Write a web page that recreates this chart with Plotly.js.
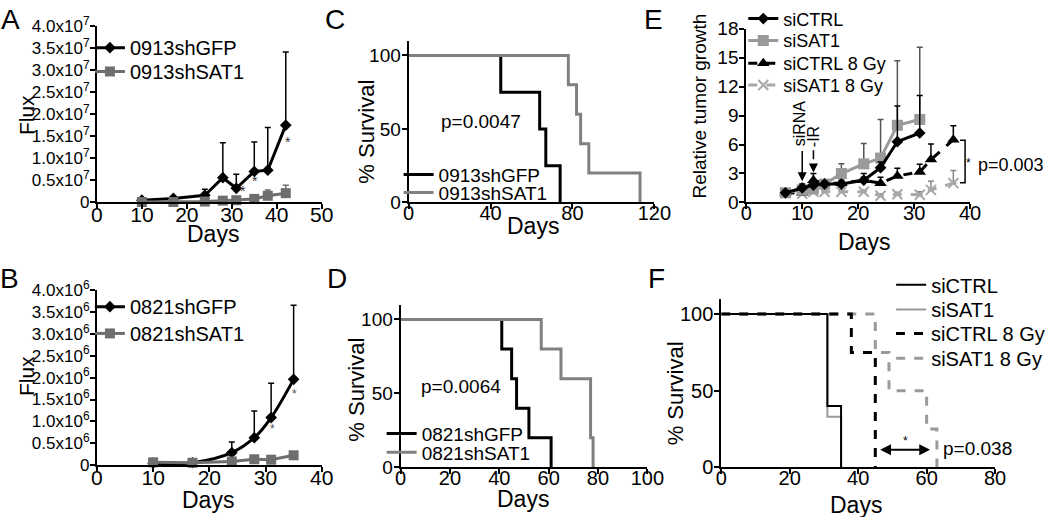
<!DOCTYPE html>
<html>
<head>
<meta charset="utf-8">
<script src="https://cdn.plot.ly/plotly-3.0.1.min.js"></script>
<style>
  body { margin: 0; background: #fff; }
  #fig { width: 1050px; height: 517px; }
</style>
</head>
<body>
<div id="fig"></div>
<script>
// Panel A - 0913 flux
const aDays = [10, 17, 24, 28, 31, 35, 38, 42];
const aGFP = [5e5, 9e5, 1.6e6, 5.6e6, 3.2e6, 7.0e6, 7.3e6, 1.75e7];
const aGFPErr = [3e5, 4e5, 1.4e6, 7.9e6, 3.2e6, 6.7e6, 9.7e6, 1.66e7];
const aSAT = [1e5, 1e5, 2e5, 4e5, 5e5, 8e5, 1.5e6, 2.1e6];
const aSATErr = [1e5, 1e5, 1e5, 2e5, 3e5, 4e5, 1.3e6, 1.8e6];
const aTickVals = [0, 5e6, 1e7, 1.5e7, 2e7, 2.5e7, 3e7, 3.5e7, 4e7];
const aTickText = ['0', '0.5x10<sup>7</sup>', '1.0x10<sup>7</sup>', '1.5x10<sup>7</sup>', '2.0x10<sup>7</sup>',
  '2.5x10<sup>7</sup>', '3.0x10<sup>7</sup>', '3.5x10<sup>7</sup>', '4.0x10<sup>7</sup>'];

// Panel B - 0821 flux
const bDays = [10, 17, 24, 28, 31, 35];
const bGFP = [5e4, 6e4, 2.9e5, 6.3e5, 1.09e6, 1.96e6];
const bGFPErr = [2e4, 2e4, 2.4e5, 6.1e5, 7.8e5, 1.69e6];
const bSAT = [7e4, 6e4, 9e4, 1.4e5, 1.3e5, 2.3e5];
const bSATErr = [2e4, 2e4, 3e4, 4e4, 7e4, 7e4];
const bTickVals = [0, 5e5, 1e6, 1.5e6, 2e6, 2.5e6, 3e6, 3.5e6, 4e6];
const bTickText = ['0', '0.5x10<sup>6</sup>', '1.0x10<sup>6</sup>', '1.5x10<sup>6</sup>', '2.0x10<sup>6</sup>',
  '2.5x10<sup>6</sup>', '3.0x10<sup>6</sup>', '3.5x10<sup>6</sup>', '4.0x10<sup>6</sup>'];

// Panel C - 0913 survival
const cGFPDays = [0, 45, 64, 67, 74];
const cGFPSurv = [100, 75, 50, 25, 0];
const cSATDays = [0, 78, 82, 84, 88, 113];
const cSATSurv = [100, 80, 60, 40, 20, 0];

// Panel D - 0821 survival
const dGFPDays = [0, 41, 45, 47, 52, 61];
const dGFPSurv = [100, 80, 60, 40, 20, 0];
const dSATDays = [0, 57, 65, 77, 78];
const dSATSurv = [100, 80, 60, 20, 0];

// Panel E - relative tumor growth
const eDays = [7, 10, 12, 14, 17, 21, 24, 27, 31];
const eCTRL = [1.0, 1.5, 1.8, 1.9, 1.9, 2.3, 3.6, 6.3, 7.2];
const eCTRLErr = [0.1, 0.4, 0.3, 0.3, 0.3, 0.7, 0.6, 3.7, 3.9];
const eSAT = [1.0, 1.3, 1.4, 1.9, 3.0, 4.0, 4.6, 8.0, 8.6];
const eSATErr = [0.1, 0.3, 0.3, 0.3, 1.0, 2.1, 4.0, 6.7, 7.5];
const e8Days = [7, 10, 12, 14, 17, 21, 24, 27, 31, 33, 37];
const eCTRL8 = [1.0, 1.0, 2.3, 2.0, 2.0, 2.3, 2.0, 2.75, 3.15, 4.45, 6.5];
const eCTRL8Err = [0.1, 0.2, 0.7, 0.3, 0.3, 0.3, 0.6, 0.8, 0.8, 1.6, 1.45];
const eSAT8 = [1.0, 0.9, 1.1, 1.1, 1.1, 1.1, 0.7, 0.85, 0.8, 1.3, 2.0];
const eSAT8Err = [0.1, 0.1, 0.2, 0.2, 0.2, 0.2, 0.2, 0.2, 0.3, 0.9, 1.3];

// Panel F - survival with IR
const fCTRLDays = [0, 31, 35];
const fCTRLSurv = [100, 40, 0];
const fSATDays = [0, 31, 35];
const fSATSurv = [100, 33, 0];
const fCTRL8Days = [0, 38, 45];
const fCTRL8Surv = [100, 75, 0];
const fSAT8Days = [0, 45, 49, 60, 63];
const fSAT8Surv = [100, 75, 50, 25, 0];

const W = 1050, H = 517;
const FONT = '"Liberation Sans", Arial, sans-serif';
const GRAY = '#6e6e6e';
const LGRAY = '#9a9a9a';

function upErr(err, color) {
  return {type: 'data', symmetric: false, array: err, arrayminus: err.map(() => 0),
    color: color, thickness: 1.5, width: 3};
}

function axis(domain, anchor, extra) {
  return Object.assign({
    domain: domain, anchor: anchor, showline: true, linecolor: '#000', linewidth: 2,
    ticks: 'outside', ticklen: 5, tickwidth: 2, tickcolor: '#000', showgrid: false,
    zeroline: false, tickfont: {size: 19, color: '#000'}, fixedrange: true,
    ticklabelstandoff: -3,
  }, extra);
}

// x axes: pull the tick labels up close to the axis line like the reference
function xaxis(domain, anchor, extra) {
  return axis(domain, anchor, Object.assign({ticklabelstandoff: -13, tickfont: {size: 20, color: '#000'}}, extra));
}

// one legend box per entry so each row sits where the reference has it
// textX / midY are pixel positions of the entry text
function legendAt(textX, midY, size) {
  return {x: (textX - 41) / W, y: 1 - midY / H, xanchor: 'left', yanchor: 'middle',
    bgcolor: 'rgba(0,0,0,0)', font: {size: size, color: '#000'}, itemwidth: 30};
}

// paper-positioned text, pixel coordinates from the top-left
function label(text, px, py, size, extra) {
  return Object.assign({text: text, xref: 'paper', yref: 'paper', x: px / W, y: 1 - py / H,
    xanchor: 'center', yanchor: 'middle', showarrow: false, font: {size: size, color: '#000'}}, extra);
}

const traces = [
  // A
  {x: aDays, y: aGFP, name: '0913shGFP', xaxis: 'x', yaxis: 'y', legend: 'legend', mode: 'lines+markers',
    line: {color: '#000', width: 3}, marker: {symbol: 'diamond', size: 9, color: '#000'},
    error_y: upErr(aGFPErr, '#000'), cliponaxis: false},
  {x: aDays, y: aSAT, name: '0913shSAT1', xaxis: 'x', yaxis: 'y', legend: 'legend2', mode: 'lines+markers',
    line: {color: GRAY, width: 3}, marker: {symbol: 'square', size: 10, color: GRAY},
    error_y: upErr(aSATErr, GRAY), cliponaxis: false},
  // B
  {x: bDays, y: bGFP, name: '0821shGFP', xaxis: 'x2', yaxis: 'y2', legend: 'legend3', mode: 'lines+markers',
    line: {color: '#000', width: 3, shape: 'spline'}, marker: {symbol: 'diamond', size: 9, color: '#000'},
    error_y: upErr(bGFPErr, '#000'), cliponaxis: false},
  {x: bDays, y: bSAT, name: '0821shSAT1', xaxis: 'x2', yaxis: 'y2', legend: 'legend4', mode: 'lines+markers',
    line: {color: GRAY, width: 3}, marker: {symbol: 'square', size: 10, color: GRAY},
    error_y: upErr(bSATErr, GRAY), cliponaxis: false},
  // C
  {x: cGFPDays, y: cGFPSurv, name: '0913shGFP', xaxis: 'x3', yaxis: 'y3', legend: 'legend5', mode: 'lines',
    line: {color: '#000', width: 3, shape: 'hv'}, cliponaxis: false},
  {x: cSATDays, y: cSATSurv, name: '0913shSAT1', xaxis: 'x3', yaxis: 'y3', legend: 'legend6', mode: 'lines',
    line: {color: '#808080', width: 3, shape: 'hv'}, cliponaxis: false},
  // D
  {x: dGFPDays, y: dGFPSurv, name: '0821shGFP', xaxis: 'x4', yaxis: 'y4', legend: 'legend7', mode: 'lines',
    line: {color: '#000', width: 3, shape: 'hv'}, cliponaxis: false},
  {x: dSATDays, y: dSATSurv, name: '0821shSAT1', xaxis: 'x4', yaxis: 'y4', legend: 'legend8', mode: 'lines',
    line: {color: '#808080', width: 3, shape: 'hv'}, cliponaxis: false},
  // E
  {x: e8Days, y: eSAT8, name: 'siSAT1 8 Gy', xaxis: 'x5', yaxis: 'y5', legend: 'legend12',
    mode: 'lines+markers', line: {color: '#a8a8a8', width: 3, dash: 'dash'},
    marker: {symbol: 'x-thin', size: 10, line: {color: '#a8a8a8', width: 2}},
    error_y: upErr(eSAT8Err, '#888'), cliponaxis: false},
  {x: e8Days, y: eCTRL8, name: 'siCTRL 8 Gy', xaxis: 'x5', yaxis: 'y5', legend: 'legend11',
    mode: 'lines+markers', line: {color: '#000', width: 3, dash: 'dash'},
    marker: {symbol: 'triangle-up', size: 11, color: '#000'},
    error_y: upErr(eCTRL8Err, '#000'), cliponaxis: false},
  {x: eDays, y: eSAT, name: 'siSAT1', xaxis: 'x5', yaxis: 'y5', legend: 'legend10',
    mode: 'lines+markers', line: {color: LGRAY, width: 3},
    marker: {symbol: 'square', size: 11, color: LGRAY},
    error_y: upErr(eSATErr, '#555'), cliponaxis: false},
  {x: eDays, y: eCTRL, name: 'siCTRL', xaxis: 'x5', yaxis: 'y5', legend: 'legend9',
    mode: 'lines+markers', line: {color: '#000', width: 3},
    marker: {symbol: 'diamond', size: 9, color: '#000'},
    error_y: upErr(eCTRLErr, '#000'), cliponaxis: false},
  // F
  {x: fSATDays, y: fSATSurv, name: 'siSAT1', xaxis: 'x6', yaxis: 'y6', legend: 'legend14',
    mode: 'lines', line: {color: LGRAY, width: 2, shape: 'hv'}, cliponaxis: false},
  {x: fCTRLDays, y: fCTRLSurv, name: 'siCTRL', xaxis: 'x6', yaxis: 'y6', legend: 'legend13',
    mode: 'lines', line: {color: '#000', width: 2, shape: 'hv'}, cliponaxis: false},
  {x: fSAT8Days, y: fSAT8Surv, name: 'siSAT1 8 Gy', xaxis: 'x6', yaxis: 'y6', legend: 'legend16',
    mode: 'lines', line: {color: LGRAY, width: 3, shape: 'hv', dash: 'dash'}, cliponaxis: false},
  {x: fCTRL8Days, y: fCTRL8Surv, name: 'siCTRL 8 Gy', xaxis: 'x6', yaxis: 'y6', legend: 'legend15',
    mode: 'lines', line: {color: '#000', width: 3, shape: 'hv', dash: 'dash'}, cliponaxis: false},
];

const layout = {
  width: W,
  height: H,
  margin: {l: 0, r: 0, t: 0, b: 0},
  paper_bgcolor: '#fff',
  plot_bgcolor: 'rgba(0,0,0,0)',
  font: {family: FONT, color: '#000'},
  showlegend: true,

  xaxis: xaxis([0.0924, 0.3067], 'y', {range: [0, 50], dtick: 10, tickfont: {size: 21, color: '#000'}}),
  yaxis: axis([0.6132, 0.9574], 'x', {range: [0, 4e7], tickvals: aTickVals, ticktext: aTickText,
    tickfont: {size: 17, color: '#000'}}),
  xaxis2: xaxis([0.0924, 0.3067], 'y2', {range: [0, 40], dtick: 10, tickfont: {size: 21, color: '#000'}}),
  yaxis2: axis([0.1006, 0.4429], 'x2', {range: [0, 4e6], tickvals: bTickVals, ticktext: bTickText,
    tickfont: {size: 17, color: '#000'}}),
  xaxis3: xaxis([0.3895, 0.6238], 'y3', {range: [0, 120], tickvals: [0, 40, 80, 120]}),
  yaxis3: axis([0.6132, 0.9284], 'x3', {range: [0, 110], tickvals: [0, 50, 100]}),
  xaxis4: xaxis([0.3819, 0.6171], 'y4', {range: [0, 100], dtick: 20}),
  yaxis4: axis([0.0967, 0.4139], 'x4', {range: [0, 110], tickvals: [0, 50, 100]}),
  xaxis5: xaxis([0.7114, 0.9248], 'y5', {range: [0, 40], dtick: 10}),
  yaxis5: axis([0.6132, 0.9516], 'x5', {range: [0, 18], dtick: 3}),
  xaxis6: xaxis([0.6876, 0.9486], 'y6', {range: [0, 80], dtick: 20}),
  yaxis6: axis([0.0967, 0.4255], 'x6', {range: [0, 110], tickvals: [0, 50, 100], tickfont: {size: 20, color: '#000'}}),

  legend: legendAt(131, 44, 20),
  legend2: legendAt(131, 68, 20),
  legend3: legendAt(131, 305, 20),
  legend4: legendAt(131, 332, 20),
  legend5: legendAt(440, 172, 19),
  legend6: legendAt(440, 190, 19),
  legend7: legendAt(423, 433, 19),
  legend8: legendAt(423, 452, 19),
  legend9: legendAt(785, 15, 18),
  legend10: legendAt(785, 37, 18),
  legend11: legendAt(785, 60, 18),
  legend12: legendAt(785, 82, 18),
  legend13: legendAt(933, 283, 20),
  legend14: legendAt(933, 308, 20),
  legend15: legendAt(933, 332, 20),
  legend16: legendAt(933, 357, 20),

  shapes: [
    // bracket in E
    {type: 'path', xref: 'x5', yref: 'y5', path: 'M 38.2 6.45 L 39.1 6.45 L 39.1 2.05 L 38.2 2.05',
      line: {color: '#000', width: 1.5}},
    // dashed shaft of the IR arrow
    {type: 'line', xref: 'x5', yref: 'y5', x0: 12, x1: 12, y0: 5.4, y1: 3.6,
      line: {color: '#000', width: 1.5, dash: 'dash'}},
  ],

  annotations: [
    // panel letters
    label('A', 11, 16, 28), label('B', 10, 277, 28), label('C', 335, 16, 28),
    label('D', 337, 277, 28), label('E', 654, 16, 28), label('F', 657, 277, 28),
    // axis titles
    label('Days', 213, 232, 23), label('Days', 208, 500, 23), label('Days', 534, 224, 23),
    label('Days', 523, 499, 23), label('Days', 865, 240, 23), label('Days', 857, 505, 23),
    label('Flux', 26, 112, 21, {textangle: -90}), label('Flux', 26, 375, 21, {textangle: -90}),
    label('% Survival', 366, 129, 22, {textangle: -90}), label('% Survival', 357, 389, 22, {textangle: -90}),
    label('% Survival', 677, 392, 22, {textangle: -90}),
    label('Relative tumor growth', 700, 103, 19, {textangle: -90}),
    // asterisks A
    {text: '*', xref: 'x', yref: 'y', x: 32.4, y: 2.5e6, showarrow: false, font: {size: 14, color: '#333'}},
    {text: '*', xref: 'x', yref: 'y', x: 35.1, y: 4.8e6, showarrow: false, font: {size: 14, color: '#333'}},
    {text: '*', xref: 'x', yref: 'y', x: 42.5, y: 1.38e7, showarrow: false, font: {size: 14, color: '#333'}},
    // asterisks B
    {text: '*', xref: 'x2', yref: 'y2', x: 31.3, y: 8.4e5, showarrow: false, font: {size: 12, color: '#555'}},
    {text: '*', xref: 'x2', yref: 'y2', x: 35.2, y: 1.63e6, showarrow: false, font: {size: 12, color: '#555'}},
    // p values
    {text: 'p=0.0047', xref: 'x3', yref: 'y3', x: 35.5, y: 55, showarrow: false, font: {size: 19}},
    {text: 'p=0.0064', xref: 'x4', yref: 'y4', x: 24.6, y: 55, showarrow: false, font: {size: 19}},
    label('*', 969, 160, 12),
    label('p=0.003', 1012, 162, 18),
    // siRNA / IR arrows in E
    label('siRNA', 800, 120, 16, {textangle: -90}),
    label('-IR', 815, 134, 16, {textangle: -90}),
    {text: '', xref: 'x5', yref: 'y5', x: 10, y: 2.2, axref: 'x5', ayref: 'y5', ax: 10, ay: 5.5,
      showarrow: true, arrowhead: 2, arrowsize: 1.2, arrowwidth: 1.5, arrowcolor: '#000'},
    {text: '', xref: 'x5', yref: 'y5', x: 12, y: 3.1, axref: 'x5', ayref: 'y5', ax: 12, ay: 3.8,
      showarrow: true, arrowhead: 2, arrowsize: 1.2, arrowwidth: 1.5, arrowcolor: '#000'},
    // F double arrow
    {text: '', xref: 'x6', yref: 'y6', x: 61, y: 11.5, axref: 'x6', ayref: 'y6', ax: 46, ay: 11.5,
      showarrow: true, arrowhead: 2, arrowside: 'end+start', arrowsize: 1.2, arrowwidth: 1.8, arrowcolor: '#000'},
    {text: '*', xref: 'x6', yref: 'y6', x: 53.9, y: 17, showarrow: false, font: {size: 12}},
    {text: 'p=0.038', xref: 'x6', yref: 'y6', x: 75, y: 12.3, showarrow: false, font: {size: 19}},
  ],
};

Plotly.newPlot('fig', traces, layout, {displayModeBar: false, staticPlot: true});
</script>
</body>
</html>
